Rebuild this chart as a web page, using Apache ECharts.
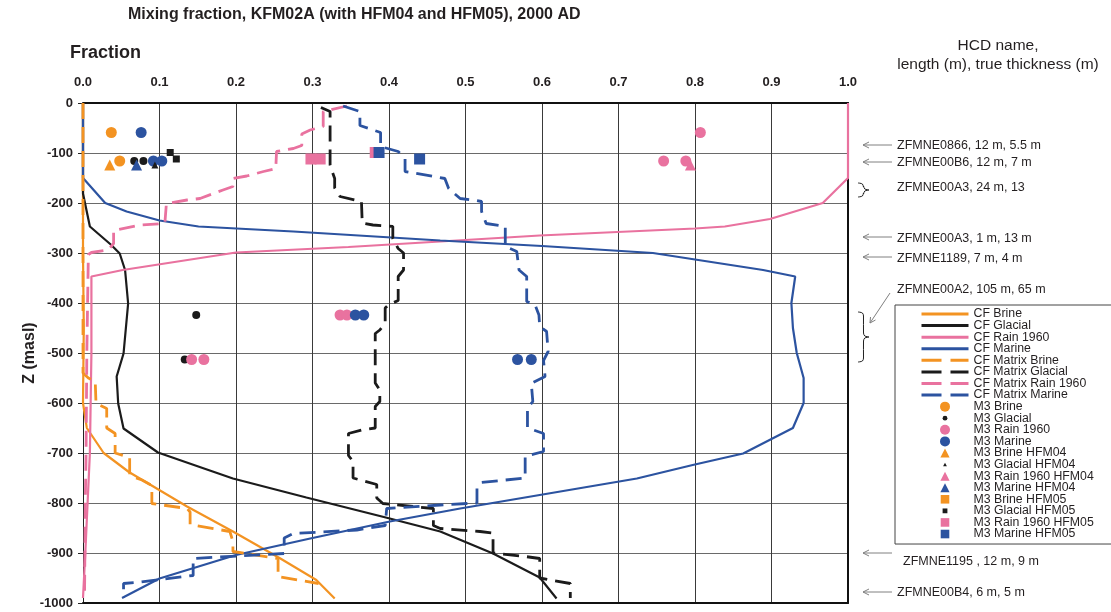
<!DOCTYPE html>
<html><head><meta charset="utf-8">
<script src="https://cdn.jsdelivr.net/npm/echarts@6/dist/echarts.min.js"></script>
<style>html,body{margin:0;padding:0;background:#fff}#c{width:1111px;height:612px}</style>
</head><body><div id="c"></div>
<script>
// ---------- data (fraction, elevation in masl) ----------
const cfBrine = [[0,0],[0,-300],[0.001,-450],[0,-600],[0.005,-650],[0.027,-700],[0.06,-738],[0.136,-807],[0.196,-857],[0.258,-911],[0.305,-954],[0.329,-991]];
const cfGlacial = [[0,0],[0,-181],[0.009,-247],[0.037,-284],[0.048,-301],[0.055,-334],[0.059,-401],[0.053,-501],[0.044,-547],[0.046,-601],[0.053,-651],[0.098,-699],[0.162,-733],[0.196,-751],[0.292,-789],[0.401,-831],[0.467,-857],[0.536,-901],[0.597,-949],[0.619,-991]];
const cfRain = [[1,0],[1,-150],[0.967,-200],[0.898,-232],[0.839,-247],[0.8,-251],[0.597,-265],[0.467,-277],[0.347,-288],[0.2,-299],[0.052,-334],[0.011,-347],[0.011,-500],[0.009,-700],[0.006,-800],[0.003,-900],[0,-990]];
const cfMarine = [[0,0],[0,-150],[0.029,-200],[0.057,-217],[0.1,-235],[0.151,-247],[0.275,-257],[0.467,-275],[0.6,-286],[0.745,-300],[0.889,-334],[0.931,-347],[0.926,-400],[0.928,-450],[0.933,-500],[0.942,-550],[0.942,-600],[0.928,-650],[0.863,-701],[0.797,-724],[0.724,-751],[0.597,-784],[0.493,-811],[0.401,-837],[0.297,-871],[0.2,-904],[0.1,-951],[0.051,-990]];
const cfMatrixBrine = [[0,0],[0,-540],[0.007,-550],[0.016,-557],[0.017,-601],[0.031,-611],[0.031,-650],[0.042,-661],[0.042,-700],[0.061,-709],[0.061,-745],[0.077,-754],[0.09,-765],[0.09,-801],[0.136,-811],[0.14,-818],[0.14,-843],[0.192,-857],[0.196,-877],[0.196,-897],[0.255,-911],[0.255,-947],[0.308,-961]];
const cfMatrixGlacial = [[0.311,-9],[0.323,-17],[0.323,-124],[0.325,-134],[0.329,-151],[0.329,-170],[0.336,-187],[0.364,-197],[0.365,-240],[0.379,-244],[0.405,-247],[0.405,-271],[0.412,-291],[0.419,-300],[0.419,-334],[0.412,-347],[0.412,-395],[0.399,-404],[0.395,-410],[0.395,-440],[0.388,-454],[0.382,-461],[0.382,-560],[0.388,-574],[0.388,-597],[0.382,-607],[0.382,-650],[0.364,-654],[0.347,-661],[0.347,-705],[0.353,-717],[0.353,-750],[0.384,-763],[0.384,-790],[0.392,-801],[0.458,-811],[0.458,-845],[0.467,-851],[0.519,-857],[0.536,-860],[0.536,-900],[0.578,-907],[0.597,-911],[0.597,-950],[0.637,-961],[0.637,-990]];
const cfMatrixRain = [[0.345,-6],[0.314,-17],[0.314,-47],[0.297,-54],[0.286,-62],[0.286,-85],[0.275,-91],[0.253,-97],[0.252,-131],[0.236,-137],[0.214,-146],[0.196,-151],[0.196,-167],[0.183,-174],[0.153,-191],[0.136,-194],[0.109,-201],[0.107,-241],[0.075,-244],[0.04,-255],[0.04,-281],[0.033,-294],[0.011,-299],[0.007,-303],[0.006,-400],[0.005,-500],[0.004,-700],[0.003,-800],[0.002,-990]];
const cfMatrixMarine = [[0.34,-6],[0.362,-17],[0.362,-45],[0.389,-59],[0.389,-87],[0.412,-97],[0.421,-111],[0.421,-137],[0.473,-151],[0.478,-171],[0.493,-191],[0.51,-194],[0.521,-197],[0.521,-217],[0.527,-241],[0.552,-247],[0.552,-287],[0.567,-297],[0.57,-334],[0.58,-347],[0.58,-397],[0.591,-404],[0.596,-424],[0.597,-447],[0.606,-457],[0.608,-497],[0.602,-515],[0.604,-547],[0.586,-561],[0.588,-597],[0.581,-611],[0.581,-650],[0.602,-661],[0.602,-697],[0.578,-707],[0.578,-750],[0.521,-759],[0.515,-770],[0.515,-800],[0.467,-804],[0.397,-811],[0.395,-845],[0.358,-854],[0.275,-861],[0.263,-870],[0.263,-901],[0.144,-911],[0.144,-945],[0.07,-959],[0.053,-961],[0.053,-990]];

const m3Brine = [[0.037,-59],[0.048,-116]];
const m3Glacial = [[0.067,-116],[0.079,-116],[0.148,-424],[0.133,-513]];
const m3Rain = [[0.807,-59],[0.759,-116],[0.788,-116],[0.336,-424],[0.345,-424],[0.142,-513],[0.158,-513]];
const m3Marine = [[0.076,-59],[0.092,-116],[0.103,-116],[0.356,-424],[0.367,-424],[0.568,-513],[0.586,-513]];
const m3BrineHFM04 = [[0.035,-124]];
const m3GlacialHFM04 = [[0.094,-124]];
const m3RainHFM04 = [[0.794,-124]];
const m3MarineHFM04 = [[0.07,-124]];
const m3BrineHFM05 = [];
const m3GlacialHFM05 = [[0.114,-99],[0.122,-112]];
const m3RainHFM05 = [[0.298,-112],[0.31,-112],[0.382,-99]];
const m3MarineHFM05 = [[0.387,-99],[0.44,-112]];

// HCD annotations (right side)
const hcdLabels = ['ZFMNE0866, 12 m, 5.5 m','ZFMNE00B6, 12 m, 7 m','ZFMNE00A3, 24 m, 13','ZFMNE00A3, 1 m, 13 m','ZFMNE1189, 7 m, 4 m','ZFMNE00A2, 105 m, 65 m','ZFMNE1195 , 12 m, 9 m','ZFMNE00B4, 6 m, 5 m'];
const hcdTextZ = [-86,-120,-170,-272,-312,-374,-918,-980];
const hcdArrowZ = [-84,-118,null,-268,-308,null,-900,-978];
const hcdBraces = [[-160,-188],[-418,-518]];

// ---------- styles ----------
const FONT = '"Liberation Sans", Arial, sans-serif';
const ORANGE = '#F39322', BLACK = '#1b1b1b', PINK = '#E9729F', BLUE = '#2C53A0';
const DASH = [16, 8];

const lineDefs = [
  ['CF Brine', cfBrine, ORANGE, 'solid'],
  ['CF Glacial', cfGlacial, BLACK, 'solid'],
  ['CF Rain 1960', cfRain, PINK, 'solid'],
  ['CF Marine', cfMarine, BLUE, 'solid'],
  ['CF Matrix Brine', cfMatrixBrine, ORANGE, DASH],
  ['CF Matrix Glacial', cfMatrixGlacial, BLACK, DASH],
  ['CF Matrix Rain 1960', cfMatrixRain, PINK, DASH],
  ['CF Matrix Marine', cfMatrixMarine, BLUE, DASH]
];
const smallCircle = 'path://M0,0M10,10M5,2.6A2.4,2.4,0,1,1,5,7.4A2.4,2.4,0,1,1,5,2.6Z';
const bigTri = 'path://M0,0M10,10M5,0.6L9.6,9.6L0.4,9.6Z';
const smallTri = 'path://M0,0M10,10M5,3.3L6.9,6.6L3.1,6.6Z';
const midSquare = 'path://M0,0M10,10M0.7,0.7L9.3,0.7L9.3,9.3L0.7,9.3Z';
const smallSquare = 'path://M0,0M10,10M2.6,2.6L7.4,2.6L7.4,7.4L2.6,7.4Z';
const scatDefs = [
  ['M3 Brine', m3Brine, ORANGE, 'circle', 11, 'circle'],
  ['M3 Glacial', m3Glacial, BLACK, 'circle', 8, smallCircle],
  ['M3 Rain 1960', m3Rain, PINK, 'circle', 11, 'circle'],
  ['M3 Marine', m3Marine, BLUE, 'circle', 11, 'circle'],
  ['M3 Brine HFM04', m3BrineHFM04, ORANGE, 'triangle', 11, bigTri],
  ['M3 Glacial HFM04', m3GlacialHFM04, BLACK, 'triangle', 7, smallTri],
  ['M3 Rain 1960 HFM04', m3RainHFM04, PINK, 'triangle', 11, bigTri],
  ['M3 Marine HFM04', m3MarineHFM04, BLUE, 'triangle', 11, bigTri],
  ['M3 Brine HFM05', m3BrineHFM05, ORANGE, 'rect', 10, midSquare],
  ['M3 Glacial HFM05', m3GlacialHFM05, BLACK, 'rect', 7, smallSquare],
  ['M3 Rain 1960 HFM05', m3RainHFM05, PINK, 'rect', 11, midSquare],
  ['M3 Marine HFM05', m3MarineHFM05, BLUE, 'rect', 11, midSquare]
];

const series = [];
const legendData = [];
lineDefs.forEach(d => {
  const solid = d[3] === 'solid';
  series.push({name: d[0], type: 'line', data: d[1], symbol: 'none', showSymbol: false,
    lineStyle: {color: d[2], width: solid ? 2.2 : 2.8, type: d[3]}, itemStyle: {color: d[2]}, z: 2, animation: false});
  legendData.push({name: d[0], itemStyle: {opacity: 0},
    lineStyle: {width: 3, color: d[2], type: solid ? 'solid' : [20, 9], opacity: 1}});
});
scatDefs.forEach(d => {
  series.push({name: d[0], type: 'scatter', data: d[1], symbol: d[3], symbolSize: d[4],
    itemStyle: {color: d[2], opacity: 1}, z: 5, animation: false});
  legendData.push({name: d[0], icon: d[5]});
});

const chart = echarts.init(document.getElementById('c'), null, {renderer: 'canvas'});
chart.setOption({
  backgroundColor: '#fff',
  animation: false,
  textStyle: {fontFamily: FONT},
  title: [
    {text: 'Mixing fraction, KFM02A (with HFM04 and HFM05), 2000 AD', left: 128, top: 7, padding: 0,
     textStyle: {fontSize: 16, fontWeight: 'bold', color: '#231F20', fontFamily: FONT}},
    {text: 'Fraction', left: 70, top: 44, padding: 0,
     textStyle: {fontSize: 18, fontWeight: 'bold', color: '#231F20', fontFamily: FONT}}
  ],
  grid: {left: 83, top: 103, width: 765, height: 500, containLabel: false},
  xAxis: [
    {type: 'value', position: 'top', min: 0, max: 1, interval: 0.1,
     axisLine: {show: true, onZero: false, lineStyle: {color: '#111', width: 2}},
     axisTick: {show: false},
     axisLabel: {formatter: v => v.toFixed(1), fontSize: 13, fontWeight: 'bold', color: '#231F20', margin: 14, fontFamily: FONT},
     splitLine: {show: true, lineStyle: {color: '#3a3a3a', width: 1}}},
    {type: 'value', position: 'bottom', min: 0, max: 1, interval: 0.1,
     axisLine: {show: true, onZero: false, lineStyle: {color: '#111', width: 2}},
     axisTick: {show: false}, axisLabel: {show: false}, splitLine: {show: false}}
  ],
  yAxis: [
    {type: 'value', min: -1000, max: 0, interval: 100,
     axisLine: {show: true, onZero: false, lineStyle: {color: '#222', width: 1}},
     axisTick: {show: true, length: 5, lineStyle: {color: '#222'}},
     axisLabel: {formatter: v => String(v), fontSize: 13, fontWeight: 'bold', color: '#231F20', margin: 10, fontFamily: FONT},
     splitLine: {show: true, lineStyle: {color: '#6a6a6a', width: 1}},
     name: 'Z (masl)', nameLocation: 'middle', nameGap: 45, nameRotate: 90, nameMoveOverlap: false,
     nameTextStyle: {fontSize: 16, fontWeight: 'bold', color: '#231F20', fontFamily: FONT}},
    {type: 'value', position: 'right', min: -1000, max: 0, interval: 100,
     axisLine: {show: true, onZero: false, lineStyle: {color: '#111', width: 2}},
     axisTick: {show: false}, axisLabel: {show: false}, splitLine: {show: false}}
  ],
  legend: {
    show: true, type: 'plain', orient: 'vertical', left: 895, top: 305,
    itemWidth: 47, itemHeight: 10, itemGap: -0.42, padding: [3, 300, 4, 25],
    borderColor: '#444', borderWidth: 1, backgroundColor: '#fff',
    selectedMode: false, symbolKeepAspect: true,
    textStyle: {fontSize: 12.3, lineHeight: 10, color: '#231F20', fontFamily: FONT},
    data: legendData
  },
  series: series
});

// ---------- HCD annotations placed on the depth scale ----------
const yPix = z => chart.convertToPixel({yAxisIndex: 0}, z);
const gfx = [];
const GRAY = '#808080';
gfx.push({type: 'text', x: 998, y: yPix(0) - 57, style: {text: 'HCD name,', font: '15.5px ' + FONT, fill: '#231F20', textAlign: 'center', textVerticalAlign: 'middle'}});
gfx.push({type: 'text', x: 998, y: yPix(0) - 38, style: {text: 'length (m), true thickness (m)', font: '15.5px ' + FONT, fill: '#231F20', textAlign: 'center', textVerticalAlign: 'middle'}});
hcdLabels.forEach((t, i) => {
  const tx = (i === 6) ? 903 : 897;
  gfx.push({type: 'text', x: tx, y: yPix(hcdTextZ[i]), z: 100, style: {text: t, font: '12.5px ' + FONT, fill: '#231F20', textAlign: 'left', textVerticalAlign: 'middle'}});
  if (hcdArrowZ[i] !== null) {
    const ay = yPix(hcdArrowZ[i]);
    gfx.push({type: 'line', shape: {x1: 863, y1: ay, x2: 892, y2: ay}, style: {stroke: GRAY, lineWidth: 1}});
    gfx.push({type: 'polyline', shape: {points: [[869, ay - 3], [863, ay], [869, ay + 3]]}, style: {stroke: GRAY, lineWidth: 1, fill: null}});
  }
});
// diagonal pointer for ZFMNE00A2
(function () {
  const y1 = yPix(-380), y2 = yPix(-440);
  gfx.push({type: 'line', shape: {x1: 890, y1: y1, x2: 870, y2: y2}, style: {stroke: GRAY, lineWidth: 1}});
  gfx.push({type: 'polyline', shape: {points: [[870.5, y2 - 6], [870, y2], [875.5, y2 - 3]]}, style: {stroke: GRAY, lineWidth: 1, fill: null}});
})();
// braces
hcdBraces.forEach(b => {
  const x0 = 858, w = 11, ya = yPix(b[0]), yb = yPix(b[1]), ym = (ya + yb) / 2;
  const xm = x0 + w * 0.5;
  const pts = [[x0, ya], [x0 + w * 0.4, ya + 1], [xm, ya + 4], [xm, ym - 4], [x0 + w * 0.62, ym - 1], [x0 + w, ym],
               [x0 + w * 0.62, ym + 1], [xm, ym + 4], [xm, yb - 4], [x0 + w * 0.4, yb - 1], [x0, yb]];
  gfx.push({type: 'polyline', shape: {points: pts, smooth: 0.35}, style: {stroke: '#222', lineWidth: 1, fill: null}});
});
chart.setOption({graphic: gfx});
</script></body></html>
